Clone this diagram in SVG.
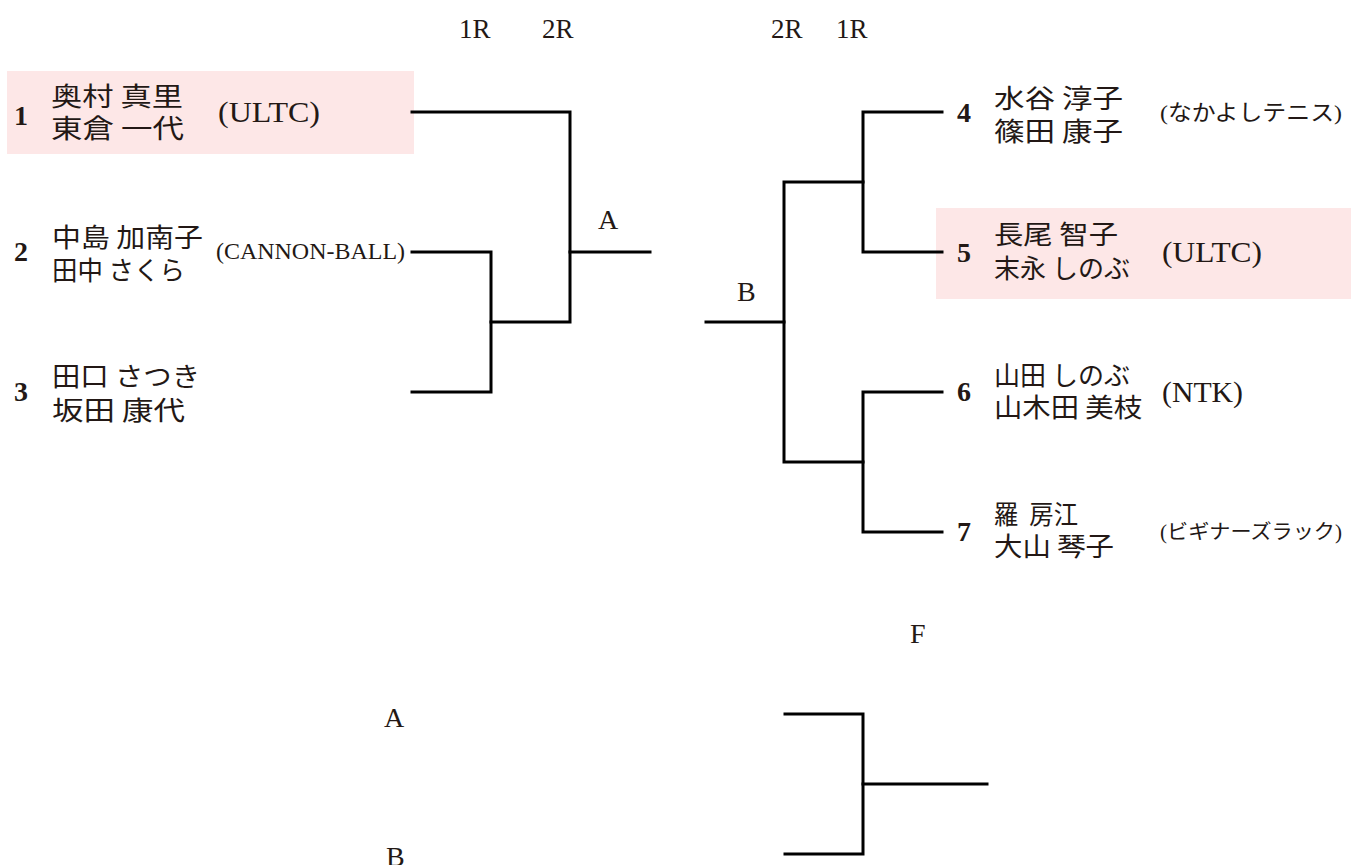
<svg xmlns="http://www.w3.org/2000/svg" width="1351" height="865" viewBox="0 0 1351 865">
<style>
text{font-family:"Liberation Serif","Noto Sans CJK JP",serif;fill:#231815}
.num{font-size:28px;font-weight:bold}
.nm{font-size:26px;font-family:"Noto Sans CJK JP","Liberation Serif",sans-serif}
.aff{font-size:29px}
.affc{font-size:23px}
.affk{font-size:22px}
.affb{font-size:20px}
.hd{font-size:27px}
.lbl{font-size:28px}
.ln{stroke:#000;stroke-width:3;fill:none;stroke-linecap:square}
.hl{fill:#fde7e7}
</style>
<rect width="1351" height="865" fill="#fff"/>
<g id="labels">
<text class="hd" x="459" y="38">1R</text>
<text class="hd" x="542" y="38">2R</text>
<text class="hd" x="771" y="38">2R</text>
<text class="hd" x="836" y="38">1R</text>
<text class="lbl" x="598" y="229">A</text>
<text class="lbl" x="737" y="301">B</text>
<text class="lbl" x="910" y="643">F</text>
<text class="lbl" x="384" y="727">A</text>
<text class="lbl" x="386" y="866">B</text>
</g>
<g id="player1">
<rect class="hl" x="7" y="71" width="407" height="83"/>
<text class="num" x="14" y="125">1</text>
<text class="nm" x="51" y="106" textLength="132" lengthAdjust="spacingAndGlyphs">奥村 真里</text>
<text class="nm" x="51" y="138" textLength="133" lengthAdjust="spacingAndGlyphs">東倉 一代</text>
<text class="aff" x="218" y="122" textLength="102" lengthAdjust="spacingAndGlyphs">(ULTC)</text>
</g>
<g id="player2">
<text class="num" x="14" y="261">2</text>
<text class="nm" x="52" y="247" textLength="151" lengthAdjust="spacingAndGlyphs">中島 加南子</text>
<text class="nm" x="52" y="280" textLength="133" lengthAdjust="spacingAndGlyphs">田中 さくら</text>
<text class="affc" x="216" y="259" textLength="189" lengthAdjust="spacingAndGlyphs">(CANNON-BALL)</text>
</g>
<g id="player3">
<text class="num" x="14" y="401">3</text>
<text class="nm" x="52" y="386" textLength="148" lengthAdjust="spacingAndGlyphs">田口 さつき</text>
<text class="nm" x="52" y="420" textLength="133" lengthAdjust="spacingAndGlyphs">坂田 康代</text>
</g>
<g id="player4">
<text class="num" x="957" y="122">4</text>
<text class="nm" x="994" y="108" textLength="129" lengthAdjust="spacingAndGlyphs">水谷 淳子</text>
<text class="nm" x="994" y="141" textLength="129" lengthAdjust="spacingAndGlyphs">篠田 康子</text>
<text class="affk" x="1160" y="120" textLength="182" lengthAdjust="spacingAndGlyphs">(なかよしテニス)</text>
</g>
<g id="player5">
<rect class="hl" x="936" y="208" width="415" height="91"/>
<text class="num" x="957" y="262">5</text>
<text class="nm" x="994" y="244" textLength="124" lengthAdjust="spacingAndGlyphs">長尾 智子</text>
<text class="nm" x="994" y="278" textLength="136" lengthAdjust="spacingAndGlyphs">末永 しのぶ</text>
<text class="aff" x="1162" y="262" textLength="100" lengthAdjust="spacingAndGlyphs">(ULTC)</text>
</g>
<g id="player6">
<text class="num" x="957" y="401">6</text>
<text class="nm" x="994" y="385" textLength="136" lengthAdjust="spacingAndGlyphs">山田 しのぶ</text>
<text class="nm" x="994" y="417" textLength="148" lengthAdjust="spacingAndGlyphs">山木田 美枝</text>
<text class="aff" x="1162" y="402" textLength="81" lengthAdjust="spacingAndGlyphs">(NTK)</text>
</g>
<g id="player7">
<text class="num" x="957" y="541">7</text>
<text class="nm" x="994" y="524" xml:space="preserve" textLength="84" lengthAdjust="spacingAndGlyphs">羅  房江</text>
<text class="nm" x="994" y="556" textLength="120" lengthAdjust="spacingAndGlyphs">大山 琴子</text>
<text class="affb" x="1160" y="539" textLength="182" lengthAdjust="spacingAndGlyphs">(ビギナーズラック)</text>
</g>
<g id="connectors" class="ln">
<polyline points="412,112 570,112 570,322 491,322"/>
<polyline points="412,252 491,252 491,392 412,392"/>
<line x1="570" y1="252" x2="650" y2="252"/>
<line x1="706" y1="322" x2="784" y2="322"/>
<polyline points="863,182 784,182 784,462 863,462"/>
<polyline points="942,112 863,112 863,252 942,252"/>
<polyline points="942,392 863,392 863,532 942,532"/>
<polyline points="785,714 863,714 863,854 785,854"/>
<line x1="863" y1="784" x2="987" y2="784"/>
</g>
</svg>
